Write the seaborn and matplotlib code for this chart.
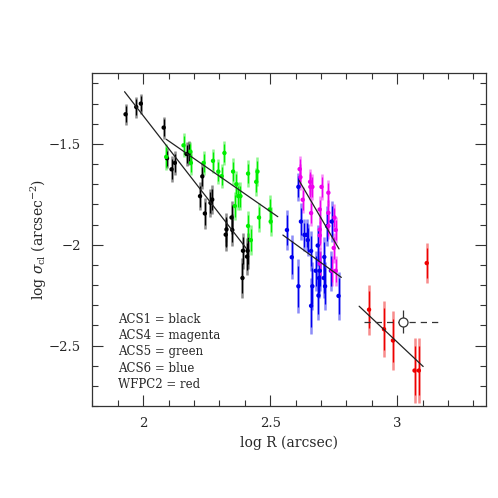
import numpy as np
import pandas as pd
import seaborn as sns
import matplotlib.pyplot as plt
from matplotlib.ticker import MultipleLocator

# ACS1 (black)
acs1_x = [1.931, 1.973, 1.991, 2.081, 2.094, 2.112, 2.125, 2.171, 2.181, 2.233, 2.224, 2.243,
          2.265, 2.272, 2.328, 2.325, 2.348, 2.351, 2.393, 2.411, 2.409, 2.391]
acs1_y = [-1.353, -1.317, -1.300, -1.419, -1.571, -1.626, -1.594, -1.550, -1.545, -1.661, -1.759, -1.845,
          -1.792, -1.776, -1.924, -1.950, -1.865, -1.927, -2.030, -2.030, -2.059, -2.165]
acs1_e = [0.052, 0.052, 0.05, 0.055, 0.05, 0.065, 0.06, 0.06, 0.06, 0.065, 0.07, 0.075,
          0.07, 0.07, 0.08, 0.08, 0.08, 0.08, 0.09, 0.09, 0.09, 0.1]

# ACS5 (green)
acs5_x = [2.091, 2.159, 2.186, 2.188, 2.238, 2.275, 2.296, 2.309, 2.320, 2.354, 2.367,
          2.375, 2.383, 2.361, 2.413, 2.445, 2.450, 2.456, 2.498, 2.502, 2.413, 2.424]
acs5_y = [-1.564, -1.507, -1.538, -1.594, -1.594, -1.584, -1.637, -1.660, -1.545, -1.637, -1.700,
          -1.759, -1.759, -1.808, -1.647, -1.688, -1.637, -1.865, -1.825, -1.885, -1.907, -1.977]
acs5_e = [0.064, 0.06, 0.05, 0.06, 0.06, 0.06, 0.06, 0.06, 0.06, 0.065, 0.065,
          0.07, 0.07, 0.07, 0.065, 0.07, 0.07, 0.07, 0.07, 0.07, 0.075, 0.075]

# ACS6 (blue)
acs6_x = [2.566, 2.585, 2.611, 2.611, 2.621, 2.635, 2.643, 2.648, 2.661, 2.687, 2.724, 2.742,
          2.679, 2.695, 2.692, 2.711, 2.713, 2.739, 2.666, 2.690, 2.716, 2.661, 2.769]
acs6_y = [-1.927, -2.062, -2.206, -1.713, -1.885, -1.951, -1.951, -1.977, -2.031, -2.004, -1.908, -1.885,
          -2.129, -2.129, -2.165, -2.165, -2.061, -2.129, -2.206, -2.252, -2.206, -2.303, -2.254]
acs6_e = [0.1, 0.11, 0.135, 0.07, 0.09, 0.08, 0.08, 0.08, 0.1, 0.1, 0.1, 0.1,
          0.1, 0.1, 0.1, 0.1, 0.1, 0.1, 0.12, 0.12, 0.12, 0.14, 0.12]

# ACS4 (magenta)
acs4_x = [2.616, 2.619, 2.628, 2.657, 2.658, 2.666, 2.661, 2.702, 2.695, 2.695,
          2.729, 2.729, 2.758, 2.753, 2.750, 2.695, 2.742, 2.758, 2.729, 2.695]
acs4_y = [-1.625, -1.665, -1.777, -1.688, -1.713, -1.713, -1.843, -1.713, -1.925, -1.825,
          -1.742, -1.842, -1.927, -1.865, -2.016, -2.093, -2.129, -2.129, -1.907, -1.954]
acs4_e = [0.065] * 14 + [0.075, 0.075, 0.075, 0.075, 0.065, 0.065]

# WFPC2 (red)
wfpc2_x = [2.889, 2.948, 2.983, 3.068, 3.085, 3.116]
wfpc2_y = [-2.322, -2.419, -2.475, -2.624, -2.624, -2.091]
wfpc2_e = [0.124, 0.139, 0.144, 0.163, 0.163, 0.10]

# fitted power laws (end points)
fit_acs1 = ([1.927, 2.407], [-1.241, -2.02])
fit_acs5 = ([2.091, 2.530], [-1.477, -1.861])
fit_acs6 = ([2.550, 2.780], [-1.952, -2.162])
fit_acs4 = ([2.613, 2.771], [-1.680, -2.021])
fit_wfpc2 = ([2.850, 3.102], [-2.305, -2.604])

# typical error marker
typ_x, typ_y, typ_xerr, typ_yerr = 3.022, -2.381, 0.152, 0.055

legend_lines = ["ACS1 = black", "ACS4 = magenta", "ACS5 = green", "ACS6 = blue", "WFPC2 = red"]

sns.set_style("ticks")
plt.rcParams['font.family'] = ['DejaVu Serif']
plt.rcParams['mathtext.fontset'] = 'dejavuserif'

fig = plt.figure(figsize=(4.98, 4.98), dpi=100)
ax = fig.add_axes([0.1853, 0.1847, 0.791, 0.668])

sets = [
    (acs1_x, acs1_y, acs1_e, 'black'),
    (acs5_x, acs5_y, acs5_e, '#00ee00'),
    (acs6_x, acs6_y, acs6_e, '#0000ee'),
    (acs4_x, acs4_y, acs4_e, '#ee00ee'),
    (wfpc2_x, wfpc2_y, wfpc2_e, '#ee0000'),
]
for x, y, e, c in sets:
    ax.errorbar(x, y, yerr=e, fmt='none', ecolor=c, elinewidth=1.8, alpha=0.45, zorder=2)
    ax.errorbar(x, y, yerr=np.array(e) * 0.75, fmt='none', ecolor=c, elinewidth=0.9, zorder=3)
    df = pd.DataFrame({'x': x, 'y': y})
    sns.scatterplot(data=df, x='x', y='y', color=c, s=10, edgecolor='none', ax=ax, zorder=4)

for fx, fy in [fit_acs1, fit_acs5, fit_acs6, fit_acs4, fit_wfpc2]:
    ax.plot(fx, fy, color='#222222', lw=0.9, zorder=5)

# typical error bar symbol
ax.errorbar([typ_x], [typ_y], xerr=typ_xerr, fmt='none', ecolor='#333333', elinewidth=0.9,
            zorder=5)[-1][0].set_linestyle((0, (5, 4)))
ax.errorbar([typ_x], [typ_y], yerr=typ_yerr, fmt='none', ecolor='#333333', elinewidth=0.9, zorder=5)
ax.plot([typ_x], [typ_y], 'o', mfc='white', mec='#333333', ms=6.5, mew=0.9, zorder=6)

for i, t in enumerate(legend_lines):
    ax.text(1.90, -2.37 - i * 0.081, t, fontsize=8.5, va='center', ha='left')

ax.set_xlim(1.8, 3.35)
ax.set_ylim(-2.8, -1.15)
ax.xaxis.set_minor_locator(MultipleLocator(0.1))
ax.yaxis.set_minor_locator(MultipleLocator(0.1))
ax.set_xticks([2, 2.5, 3])
ax.set_xticklabels(['2', '2.5', '3'])
ax.set_yticks([-1.5, -2, -2.5])
ax.set_yticklabels(['\u22121.5', '\u22122', '\u22122.5'])
ax.tick_params(which='both', direction='in', top=True, right=True, labelsize=9.5, width=0.8, color='#333333')
ax.tick_params(which='major', length=8, pad=8)
ax.tick_params(which='minor', length=4)
for s in ax.spines.values():
    s.set_linewidth(0.9)
    s.set_color('#333333')

ax.set_xlabel('log R (arcsec)', fontsize=10)
ax.set_ylabel(r'log $\sigma_{\rm cl}$ (arcsec$^{-2}$)', fontsize=10, labelpad=0)

fig.savefig('out.png', dpi=100)
